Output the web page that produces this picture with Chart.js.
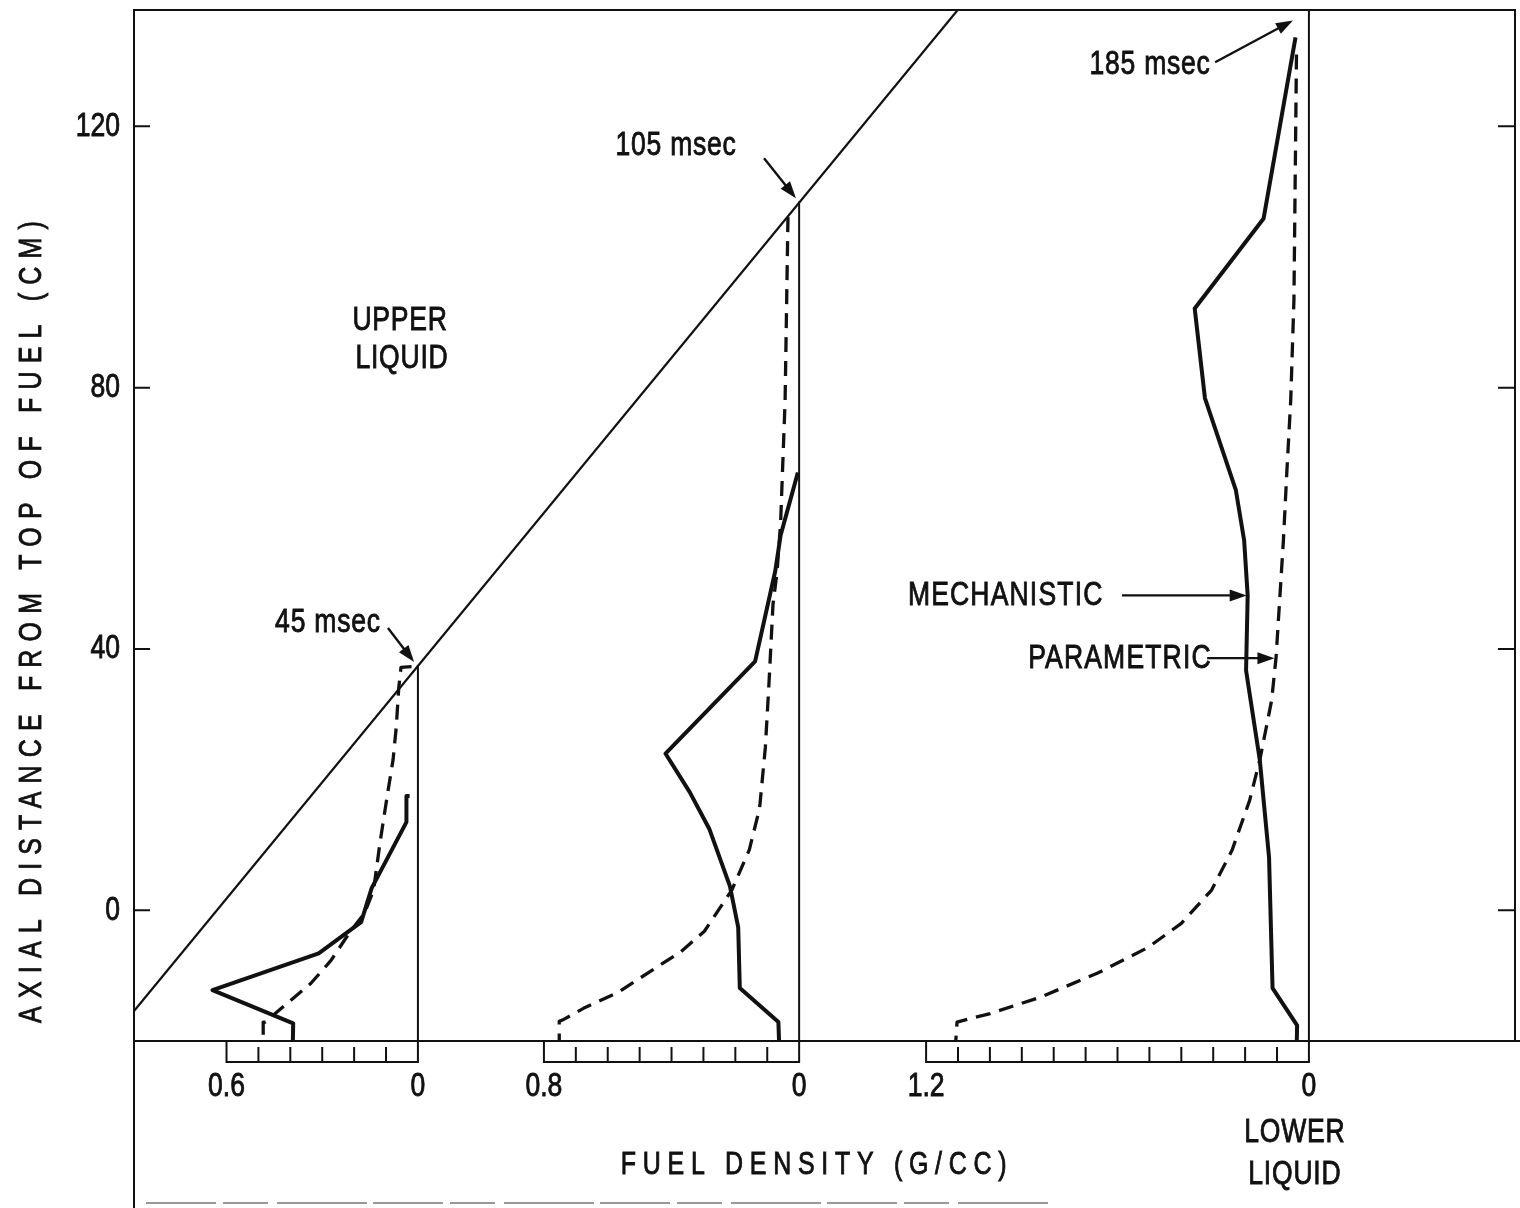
<!DOCTYPE html>
<html lang="en">
<head>
<meta charset="UTF-8" />
<title>Fuel density profiles</title>
<style>
  html, body { margin: 0; padding: 0; background: #fff; }
  #chart { display: block; }
</style>
</head>
<body>
<canvas id="chart" width="1520" height="1208"></canvas>
<script src="https://cdn.jsdelivr.net/npm/chart.js@4.4.1/dist/chart.umd.min.js"></script>
<script>
// x runs in g/cc measured from the left frame; each panel puts density 0 at panelZero
var panelZero = [0.890, 2.085, 3.683];
var rulerMax = [0.6, 0.8, 1.2];
var panelTop = [37.5, 108.5, 137.8];
var xTickLabels = ["0.6", "0", "0.8", "0", "1.2", "0"];
var yTicks = [0, 40, 80, 120];

// [density g/cc, axial distance cm]
var mech45 = [[0.026, 17.5], [0.036, 17.5], [0.036, 13.5], [0.145, 3.4], [0.178, -1.8],
  [0.311, -6.6], [0.644, -12.2], [0.391, -17.3], [0.392, -20]];
var param45 = [[0.020, 37.3], [0.053, 37.2], [0.060, 34.1], [0.068, 28.0], [0.078, 23.0],
  [0.095, 17.9], [0.119, 10.3], [0.139, 3.1], [0.168, -0.5], [0.210, -3.1], [0.273, -7.7],
  [0.336, -11.2], [0.409, -14.2], [0.462, -16.4], [0.478, -17.1], [0.485, -17.1], [0.485, -20]];

var mech105 = [[0.004, 67.0], [0.058, 57.4], [0.075, 51.9], [0.138, 38.1], [0.419, 24.0],
  [0.343, 18.1], [0.281, 12.4], [0.217, 3.7], [0.191, -2.6], [0.186, -11.9], [0.065, -17.1],
  [0.063, -20]];
var param105 = [[0.035, 106.1], [0.044, 78.0], [0.058, 59.4], [0.069, 51.9], [0.082, 46.8],
  [0.095, 34.3], [0.106, 24.9], [0.124, 15.6], [0.156, 9.3], [0.211, 3.1], [0.297, -3.2],
  [0.370, -6.3], [0.465, -9.3], [0.569, -12.6], [0.676, -15.0], [0.742, -16.8], [0.752, -17.0],
  [0.752, -20]];

var mech185 = [[0.042, 133.6], [0.142, 105.9], [0.358, 92.1], [0.326, 78.4], [0.229, 64.3],
  [0.203, 56.6], [0.192, 48.2], [0.197, 36.7], [0.154, 23.0], [0.125, 8.1], [0.114, -11.9],
  [0.037, -17.6], [0.038, -20]];
var param185 = [[0.039, 131.0], [0.047, 93.4], [0.057, 78.1], [0.069, 67.3], [0.080, 56.6],
  [0.103, 38.7], [0.117, 32.1], [0.154, 23.0], [0.186, 16.8], [0.241, 9.2], [0.305, 3.1],
  [0.400, -2.0], [0.505, -5.7], [0.662, -9.6], [0.842, -13.3], [0.999, -15.8], [1.103, -17.1],
  [1.107, -20]];

// upper-liquid interface line, [x position, cm]
var interfaceLine = [[0, -15.4], [2.582, 137.8]];

var FONT = "'Liberation Sans', Arial, sans-serif";
var SQUEEZE = 0.78; // the scanned lettering is a condensed face

// every label goes through fillText; squeeze it horizontally round its anchor
var canvas = document.getElementById("chart");
var c2d = canvas.getContext("2d");
var nativeFill = c2d.fillText;
var nativeStroke = c2d.strokeText;
c2d.fillText = function (s, x, y, maxWidth) {
  this.save();
  this.translate(x, y);
  this.scale(SQUEEZE, 1);
  if (maxWidth === undefined) {
    nativeFill.call(this, s, 0, 0);
    this.lineWidth = 0.9;
    this.strokeStyle = this.fillStyle;
    nativeStroke.call(this, s, 0, 0);
  } else {
    nativeFill.call(this, s, 0, 0, maxWidth / SQUEEZE);
  }
  this.restore();
};

function inPanel(points, k) {
  return points.map(function (p) { return { x: panelZero[k] - p[0], y: p[1] }; });
}

var datasets = [];
datasets.push({ data: interfaceLine.map(function (p) { return { x: p[0], y: p[1] }; }), borderWidth: 2.2 });
[0, 1, 2].forEach(function (k) {
  datasets.push({ data: [{ x: panelZero[k], y: -20 }, { x: panelZero[k], y: panelTop[k] }], borderWidth: 2 });
});
[mech45, mech105, mech185].forEach(function (s, k) {
  datasets.push({ data: inPanel(s, k), borderWidth: 4 });
});
[param45, param105, param185].forEach(function (s, k) {
  datasets.push({ data: inPanel(s, k), borderWidth: 3.3, borderDash: [15, 9] });
});
datasets.forEach(function (d) {
  d.borderColor = "#111";
  d.pointRadius = 0;
  d.fill = false;
  d.tension = 0;
  d.borderJoinStyle = "round";
});

function txt(ctx, s, x, y, size, spacing, align) {
  ctx.save();
  ctx.font = size + "px " + FONT;
  ctx.letterSpacing = (spacing || 0) + "px";
  ctx.textAlign = align || "center";
  ctx.textBaseline = "middle";
  ctx.fillStyle = "#111";
  ctx.fillText(s, x, y);
  ctx.restore();
}

function arrow(ctx, x0, y0, x1, y1) {
  var a = Math.atan2(y1 - y0, x1 - x0), L = 17, W = 6;
  ctx.beginPath();
  ctx.moveTo(x0, y0);
  ctx.lineTo(x1 - Math.cos(a) * L * 0.6, y1 - Math.sin(a) * L * 0.6);
  ctx.stroke();
  ctx.beginPath();
  ctx.moveTo(x1, y1);
  ctx.lineTo(x1 - Math.cos(a) * L + Math.sin(a) * W, y1 - Math.sin(a) * L - Math.cos(a) * W);
  ctx.lineTo(x1 - Math.cos(a) * L - Math.sin(a) * W, y1 - Math.sin(a) * L + Math.cos(a) * W);
  ctx.closePath();
  ctx.fill();
}

var decor = {
  id: "decor",
  afterDraw: function (chart) {
    var ctx = chart.ctx, a = chart.chartArea;
    var xs = chart.scales.x, ys = chart.scales.y;
    var X = function (v) { return xs.getPixelForValue(v); };
    var Y = function (v) { return ys.getPixelForValue(v); };
    ctx.save();
    ctx.strokeStyle = "#111";
    ctx.fillStyle = "#111";
    ctx.lineWidth = 2;
    ctx.lineCap = "butt";

    // frame
    ctx.beginPath();
    ctx.moveTo(a.left, chart.height);
    ctx.lineTo(a.left, a.top);
    ctx.lineTo(a.right, a.top);
    ctx.lineTo(a.right, a.bottom);
    ctx.moveTo(a.left, a.bottom);
    ctx.lineTo(chart.width, a.bottom);
    ctx.stroke();

    // faint broken edge of the scanned sheet
    ctx.save();
    ctx.strokeStyle = "#777";
    ctx.lineWidth = 1.5;
    ctx.setLineDash([70, 7, 45, 9, 90, 6]);
    ctx.beginPath();
    ctx.moveTo(a.left + 12, chart.height - 5);
    ctx.lineTo(X(2.88), chart.height - 5);
    ctx.stroke();
    ctx.restore();

    // inside ticks on both sides
    ctx.beginPath();
    yTicks.forEach(function (v) {
      ctx.moveTo(a.left, Y(v)); ctx.lineTo(a.left + 16, Y(v));
      ctx.moveTo(a.right - 17, Y(v)); ctx.lineTo(a.right, Y(v));
    });
    ctx.stroke();

    // density rulers under each panel
    ctx.beginPath();
    panelZero.forEach(function (z, k) {
      var x0 = X(z), x1 = X(z - rulerMax[k]), yb = a.bottom + 21;
      ctx.moveTo(x1, a.bottom); ctx.lineTo(x1, yb); ctx.lineTo(x0, yb); ctx.lineTo(x0, a.bottom);
      for (var i = 1; i < Math.round(rulerMax[k] * 10); i++) {
        var xt = X(z - i * 0.1);
        ctx.moveTo(xt, yb); ctx.lineTo(xt, yb - 15);
      }
    });
    ctx.stroke();

    // annotations
    txt(ctx, "UPPER", X(0.834), Y(90.3), 34, 1);
    txt(ctx, "LIQUID", X(0.840), Y(84.5), 34, 1);
    txt(ctx, "45 msec", X(0.608), Y(44.1), 34, 1);
    txt(ctx, "105 msec", X(1.699), Y(117.1), 34, 1);
    txt(ctx, "185 msec", X(3.185), Y(129.5), 34, 1);
    txt(ctx, "MECHANISTIC", X(2.426), Y(48.2), 34, 1.5, "left");
    txt(ctx, "PARAMETRIC", X(2.803), Y(38.6), 34, 1.5, "left");

    ctx.lineWidth = 2.4;
    arrow(ctx, X(0.796), Y(43.2), X(0.878), Y(38.0));
    arrow(ctx, X(1.975), Y(115.1), X(2.075), Y(109.0));
    arrow(ctx, X(3.389), Y(129.8), X(3.633), Y(136.2));
    arrow(ctx, X(3.097), Y(48.2), X(3.488), Y(48.2));
    arrow(ctx, X(3.364), Y(38.6), X(3.575), Y(38.6));

    // axis titles
    txt(ctx, "FUEL DENSITY (G/CC)", X(2.141), a.bottom + 124, 32, 8.6);
    txt(ctx, "LOWER", X(3.639), a.bottom + 92, 34, 1);
    txt(ctx, "LIQUID", X(3.639), a.bottom + 134, 34, 1);
    ctx.save();
    ctx.translate(32, 618);
    ctx.rotate(-Math.PI / 2);
    txt(ctx, "AXIAL DISTANCE FROM TOP OF FUEL (CM)", 0, 0, 32, 10.5);
    ctx.restore();
    ctx.restore();
  }
};

Chart.defaults.color = "#111";
new Chart(canvas, {
  type: "line",
  data: { datasets: datasets },
  plugins: [decor],
  options: {
    responsive: false,
    animation: false,
    devicePixelRatio: 1,
    layout: { padding: { top: 10, right: 5, left: 0, bottom: 0 } },
    plugins: { legend: { display: false }, tooltip: { enabled: false } },
    scales: {
      x: {
        type: "linear",
        min: 0,
        max: 4.329,
        grid: { display: false, drawTicks: false },
        border: { display: false },
        afterBuildTicks: function (scale) {
          var t = [];
          panelZero.forEach(function (z, k) {
            t.push({ value: z - rulerMax[k] });
            t.push({ value: z });
          });
          scale.ticks = t;
        },
        afterFit: function (scale) {
          scale.height = 167;
          scale.paddingLeft = 0;
          scale.paddingRight = 0;
        },
        ticks: {
          autoSkip: false,
          maxRotation: 0,
          padding: 25,
          font: { family: FONT, size: 34 },
          callback: function (v, i) { return xTickLabels[i]; }
        }
      },
      y: {
        type: "linear",
        min: -20,
        max: 137.8,
        grid: { display: false, drawTicks: false },
        border: { display: false },
        afterBuildTicks: function (scale) {
          scale.ticks = yTicks.map(function (v) { return { value: v }; });
        },
        afterFit: function (scale) {
          scale.width = 134;
          scale.paddingTop = 0;
          scale.paddingBottom = 0;
        },
        ticks: {
          padding: 14,
          font: { family: FONT, size: 34 }
        }
      }
    }
  }
});
</script>
</body>
</html>
